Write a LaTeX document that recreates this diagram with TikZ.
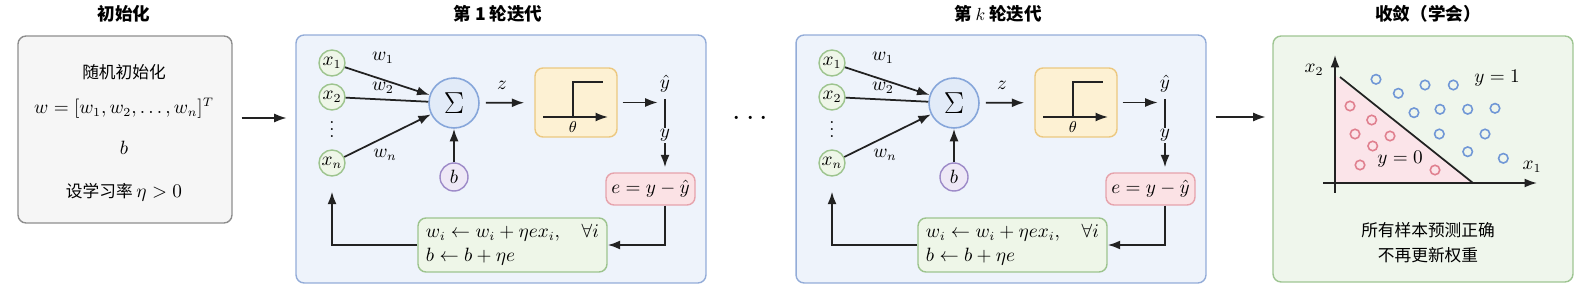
\documentclass[tikz,border=0pt]{standalone}
\usepackage{fontspec}
\usepackage{amsmath,amssymb}
\newfontfamily\cjk{Noto Sans CJK SC}
\usetikzlibrary{arrows.meta}
\definecolor{Ink}{HTML}{222222}
\definecolor{GryFill}{HTML}{F6F6F6}
\definecolor{GryLine}{HTML}{8E8E8E}
\definecolor{IterFill}{HTML}{EEF3FB}
\definecolor{IterLine}{HTML}{93ACD8}
\definecolor{GrnFill}{HTML}{EEF6E8}
\definecolor{GrnLine}{HTML}{9DC48E}
\definecolor{BluFill}{HTML}{E2EBF8}
\definecolor{BluLine}{HTML}{86A6DA}
\definecolor{PurFill}{HTML}{EEE8F6}
\definecolor{PurLine}{HTML}{9D8AC8}
\definecolor{OrgFill}{HTML}{FDF1D3}
\definecolor{OrgLine}{HTML}{ECC880}
\definecolor{ErrFill}{HTML}{FBE2E5}
\definecolor{ErrLine}{HTML}{E6A3AC}
\definecolor{CvFill}{HTML}{EFF6EC}
\definecolor{CvLine}{HTML}{9EC592}
\definecolor{RedPt}{HTML}{E0808F}
\definecolor{BluPt}{HTML}{7097D6}
\definecolor{PinkReg}{HTML}{FBE4E9}
\tikzset{
  >={Latex[length=2.5mm,width=1.8mm]},
  panel/.style={draw,rounded corners=1.6mm,line width=.8pt},
  ttl/.style={font=\cjk\bfseries\fontsize{10}{12}\selectfont},
  cjktxt/.style={font=\cjk\fontsize{9.5}{11}\selectfont},
  inp/.style={circle,draw=GrnLine,fill=GrnFill,line width=.8pt,minimum size=5.2mm,inner sep=0pt},
  sumn/.style={circle,draw=BluLine,fill=BluFill,line width=.9pt,minimum size=10mm,inner sep=0pt,font=\LARGE},
  bias/.style={circle,draw=PurLine,fill=PurFill,line width=.8pt,minimum size=5.6mm,inner sep=0pt},
  stepbox/.style={panel,draw=OrgLine,fill=OrgFill,minimum width=1.64cm,minimum height=1.38cm},
  errbox/.style={panel,draw=ErrLine,fill=ErrFill,minimum width=1.78cm,minimum height=.64cm,inner sep=1pt},
  updbox/.style={panel,draw=GrnLine,fill=GrnFill,minimum width=3.78cm,minimum height=1.08cm,align=left,inner sep=1pt},
  flow/.style={->,line width=1pt,draw=Ink},
  plain/.style={line width=1pt,draw=Ink},
  ylab/.style={fill=IterFill,inner sep=1pt},
  dotp/.style={line width=.9pt}
}
\begin{document}
\begin{tikzpicture}[x=0.02cm,y=-0.02cm,font=\fontsize{10.5}{12.6}\selectfont]
  \useasboundingbox (0,0) rectangle (1582,290);
  % initialisation
  \node[panel,draw=GryLine,fill=GryFill,minimum width=4.28cm,minimum height=3.74cm] (init) at (125,129.5) {};
  \node[ttl] (tinit) at (124,14) {初始化};
  \node[cjktxt] (rinit) at (124,72) {随机初始化};
  \node (wvec) at (124,108) {$w=[w_1,w_2,\ldots,w_n]^T$};
  \node (bzero) at (124,148) {$b$};
  \node[cjktxt] (eta) at (124,192) {设学习率 \fontsize{10.5}{12.6}\selectfont$\eta>0$};
  % iterations
  \foreach \dx/\lab/\id in {0/1/a,500/$k$/b}{
    \node[panel,draw=IterLine,fill=IterFill,minimum width=8.2cm,minimum height=4.96cm] (it\id) at (\dx+501,159) {};
    \node[ttl] (tit\id) at (\dx+498,14) {第 \lab\ 轮迭代};
    \node[inp] (x1\id) at (\dx+332,63) {$x_1$};
    \node[inp] (x2\id) at (\dx+332,97) {$x_2$};
    \node[inner sep=0pt] (vd\id) at (\dx+332,138) {\smash{$\vdots$}};
    \node[inp] (xn\id) at (\dx+332,163) {$x_n$};
    \node[sumn] (sg\id) at (\dx+454,103) {$\Sigma$};
    \node[bias] (b\id) at (\dx+454,177) {$b$};
    \node[stepbox] (st\id) at (\dx+576,102.5) {};
    \node[errbox] (er\id) at (\dx+650.5,189) {$e=y-\hat{y}$};
    \node[updbox] (up\id) at (\dx+512.5,245) {$w_i\leftarrow w_i+\eta e x_i,\quad\forall i$\\[1pt]$b\leftarrow b+\eta e$};
    \node (yh\id) at (\dx+665,84) {$\hat{y}$};
    \node (w1\id) at (\dx+383,58) {$w_1$};
    \node (w2\id) at (\dx+383,88) {$w_2$};
    \node (wn\id) at (\dx+385,155) {$w_n$};
    \node (z\id) at (\dx+502,85) {$z$};
    \node[font=\small] (th\id) at (\dx+573,127) {$\theta$};
    \draw[flow] (x1\id) -- (sg\id);
    \draw[plain] (x2\id) -- (sg\id);
    \draw[flow] (xn\id) -- (sg\id);
    \draw[flow] (b\id) -- (sg\id);
    \draw[flow,shorten <=.12cm,shorten >=.2cm] (sg\id) -- (st\id);
    \draw[flow,line width=.9pt] (\dx+543,117) -- (\dx+608,117);
    \draw[plain] (\dx+573,117) -- (\dx+573,82) -- (\dx+603,82);
    \draw[flow,shorten <=.1cm] (st\id.east) -- ++(40,0);
    \draw[flow,shorten >=.1cm] (yh\id) -- node[ylab] {$y$} (yh\id |- er\id.north);
    \draw[flow] (er\id.south -| yh\id) |- (up\id.east);
    \draw[flow,shorten >=.3cm] (up\id.west) -| (xn\id.south);
  }
  \node[font=\LARGE] (dots) at (753,119) {$\cdots$};
  \draw[flow] ([shift={(9,-11.5)}]init.east) -- ++(45,0);
  % convergence
  \node[panel,draw=CvLine,fill=CvFill,minimum width=6cm,minimum height=4.92cm] (cv) at (1423,159) {};
  \draw[flow] ([shift={(9,-42)}]itb.east) -- ++(50,0);
  \node[ttl] (tcv) at (1428,14) {收敛（学会）};
  \fill[PinkReg] (1336,76) -- (1336,183) -- (1473,183) -- cycle;
  \draw[plain] (1340,77) -- (1473,183);
  \draw[flow] (1323,183) -- (1537,183);
  \draw[flow] (1335,193) -- (1335,55);
  \node (xa) at (1314,70) {$x_2$};
  \node (xb) at (1532,167) {$x_1$};
  \node (yone) at (1497,78) {$y=1$};
  \node (yzero) at (1400,159) {$y=0$};
  \foreach \px/\py in {1350/106,1371.7/120,1355/134,1390/136,1372.7/146,1360/165,1435/170}
    \draw[dotp,draw=RedPt] (\px,\py) circle[radius=.095cm];
  \foreach \px/\py in {1376/79.3,1398.3/93.3,1425/85,1453.3/85,1414/112.7,1440/109.3,1467.7/109.3,1495/108.3,1439.3/134,1485/134,1467.7/151.7,1503.3/158.3}
    \draw[dotp,draw=BluPt] (\px,\py) circle[radius=.095cm];
  \node[cjktxt] (ok) at (1428,230) {所有样本预测正确};
  \node[cjktxt] (stop) at (1428,255) {不再更新权重};
\end{tikzpicture}
\end{document}
